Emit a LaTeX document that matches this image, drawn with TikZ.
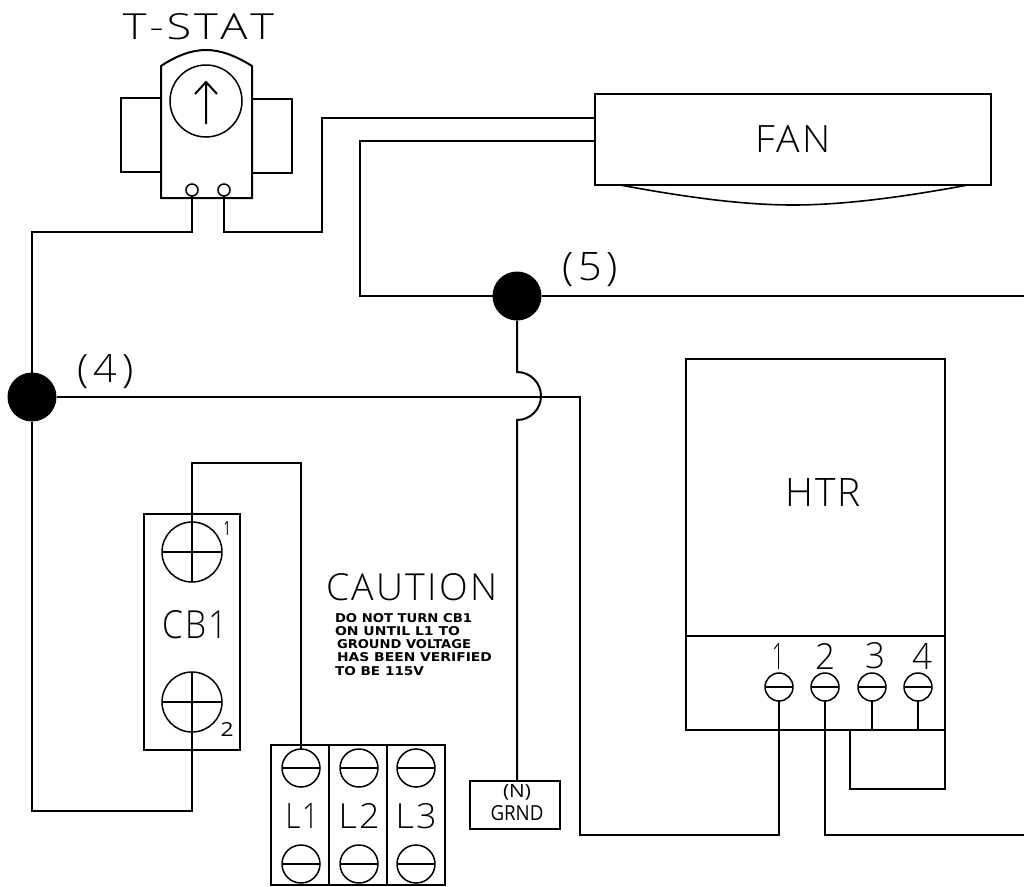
\documentclass[tikz,border=0pt]{standalone}
\usepackage{fontspec}
\usepackage{graphicx}
\setmainfont{Open Sans Light}
\newfontfamily\smallcad{DejaVu Sans}
\newfontfamily\midcad{Open Sans}
\newcommand{\fit}[3]{\resizebox{#1pt}{#2pt}{#3}}
\newcommand{\gp}{\kern0.06em}
\tikzset{
  wire/.style={line width=2pt,black,line join=miter},
  boxn/.style={draw,line width=2pt,rectangle,inner sep=0pt,outer sep=0pt},
  term/.style={draw,circle,line width=1.5pt,inner sep=0pt,outer sep=0pt,minimum size=#1},
  term/.default=28pt,
  junct/.style={fill=black,circle,inner sep=0pt,outer sep=0pt,minimum size=49pt},
  lab/.style={inner sep=0pt,outer sep=0pt,text=black},
}
\begin{document}
\begin{tikzpicture}[x=1pt,y=-1pt]
\useasboundingbox (0,0) rectangle (1024,886);
% Thermostat
\node[boxn,minimum width=40pt,minimum height=74pt] (tl) at (141,135) {};
\node[boxn,minimum width=40pt,minimum height=74pt] (tr) at (272,136) {};
\node[lab] (tstat) at (198.5,27) {\fit{151}{26}{T\gp-\gp S\gp T\gp A\gp T}};
\coordinate (bl) at (161,198); \coordinate (br) at (252,198);
\coordinate (ul) at (161,66);  \coordinate (ur) at (252,66);
\draw[wire,fill=white] (bl) -- (ul) .. controls (176,56) and (191,50) .. (206,50)
   .. controls (221,50) and (236,56) .. (ur) -- (br) -- cycle;
\node[term=72pt] (dial) at (206,101) {};
\coordinate (atip) at (206,82); \coordinate (atail) at (206,124);
\coordinate (ahl) at (195,94); \coordinate (ahr) at (217,94);
\draw[wire] (atail) -- (atip) (ahl) -- (atip) -- (ahr);
\node[term=12pt] (ts1) at (192,190) {};
\node[term=12pt] (ts2) at (224,190) {};
% Fan
\node[boxn,minimum width=396pt,minimum height=91pt] (fan) at (793,139.5) {};
\node[lab] at (793,139) {\fit{76}{27}{F\gp A\gp N}};
\coordinate (fa) at (620,185); \coordinate (fb) at (793,205); \coordinate (fc) at (968,185);
\draw[line width=1.6pt] (fa) .. controls (690,198) and (745,205) .. (fb)
   .. controls (841,205) and (898,198) .. (fc);
% Junctions
\node[junct] (j5) at (517,296) {};
\node[junct] (j4) at (32,397) {};
\node[lab] at (590,270) {\fit{56}{28}{(\gp\gp5\gp\gp)}};
\node[lab] at (105.5,372) {\fit{56}{28}{(\gp\gp4\gp\gp)}};
% Heater
\node[boxn,minimum width=259pt,minimum height=371pt] (htr) at (815.5,544.5) {};
\coordinate (dl) at (686,636); \coordinate (dr) at (945,636);
\draw[wire] (dl) -- (dr);
\node[lab] at (823,492) {\fit{76}{28}{H\gp T\gp R}};
\foreach \n/\x/\lx in {1/779/778,2/825/825,3/872/875,4/918/922}{
  \node[term=28pt] (h\n) at (\x,687) {};
  \draw[line width=1.5pt] (h\n.west) -- (h\n.east);
  \node[lab] at (\lx,656) {\fit{\ifnum\n=1 12\else 20\fi}{26}{\n}};
}
% Circuit breaker
\node[boxn,minimum width=96pt,minimum height=236pt] (cb) at (192,632) {};
\node[term=60pt] (c1) at (192,552) {};
\node[term=60pt] (c2) at (192,702) {};
\draw[line width=1.5pt] (c1.west) -- (c1.east) (c2.west) -- (c2.east);
\draw[line width=1.5pt] (c2.north) -- (c2.south);
\node[lab] at (195,625) {\fit{65}{28}{C\gp B\gp 1}};
\node[lab] at (227,528) {\fit{7}{14}{\midcad 1}};
\node[lab] at (227,729) {\fit{13}{14}{\midcad 2}};
% Line block
\node[boxn,minimum width=58pt,minimum height=140pt] (b1) at (300,815) {};
\node[boxn,minimum width=58pt,minimum height=140pt] (b2) at (358,815) {};
\node[boxn,minimum width=58pt,minimum height=140pt] (b3) at (416,815) {};
\foreach \i/\x in {1/301,2/359,3/416}{
  \node[term=38pt] (lt\i) at (\x,768) {};
  \node[term=38pt] (lb\i) at (\x,864) {};
  \draw[line width=1.5pt] (lt\i.west) -- (lt\i.east) (lb\i.west) -- (lb\i.east);
}
\node[lab] at (302,816) {\fit{33}{25}{L\gp 1}};
\node[lab] at (359,816) {\fit{41}{25}{L\gp 2}};
\node[lab] at (416,816) {\fit{41}{25}{L\gp 3}};
% Ground
\node[boxn,minimum width=90pt,minimum height=48pt] (gr) at (515,805) {};
\node[lab] at (517,792.5) {\fit{28}{13}{\midcad (N)}};
\node[lab] at (517,813) {\fit{53}{15}{\midcad GRND}};
% Caution
\node[lab] at (412,587) {\fit{171}{27}{C\gp A\gp U\gp T\gp I\gp O\gp N}};
\begin{scope}[every node/.style={lab,anchor=west}]
\node at (335,618.5) {\fit{137}{9}{\smallcad\bfseries DO NOT TURN CB1}};
\node at (335,631.5) {\fit{125}{9}{\smallcad\bfseries ON UNTIL L1 TO}};
\node at (337,644.5) {\fit{134}{9}{\smallcad\bfseries GROUND VOLTAGE}};
\node at (337,657.5) {\fit{155}{9}{\smallcad\bfseries HAS BEEN VERIFIED}};
\node at (335,671) {\fit{89}{9}{\smallcad\bfseries TO BE 115V}};
\end{scope}
% Wires
\coordinate (w0a) at (192,232); \coordinate (w0b) at (32,232);
\coordinate (w1z) at (224,232);
\coordinate (w1a) at (322,232); \coordinate (w1b) at (322,118);
\coordinate (fanA) at (595,118); \coordinate (fanB) at (595,141);
\coordinate (w2a) at (360,141); \coordinate (w2b) at (360,296);
\coordinate (rightA) at (1024,296); \coordinate (rightB) at (1024,835);
\draw[wire] (ts1.south) -- (w0a) -- (w0b) -- (j4);
\draw[wire] (ts2.south) -- (w1z) -- (w1a) -- (w1b) -- (fanA);
\draw[wire] (fanB) -- (w2a) -- (w2b) -- (j5) -- (rightA);
\draw[wire] (j4) -- (32,811) -| (c2.south);
\draw[wire] (j4) -- (580,397) -- (580,835) -| (h1.south);
\draw[wire] (h2.south) |- (rightB);
\draw[wire] (j5) -- (517,372) arc[start angle=90,end angle=-90,radius=24pt] -- (gr.north -| 517,781);
\draw[wire] (c1.south) -- (192,463) -| (lt1.north);
\coordinate (hb3) at (872,730); \coordinate (hb4) at (918,730);
\draw[wire] (h3.south) -- (hb3) (h4.south) -- (hb4);
\coordinate (la) at (850,730); \coordinate (lb) at (945,730);
\draw[wire] (la) -- (850,789) -- (945,789) -- (lb);
\end{tikzpicture}
\end{document}
